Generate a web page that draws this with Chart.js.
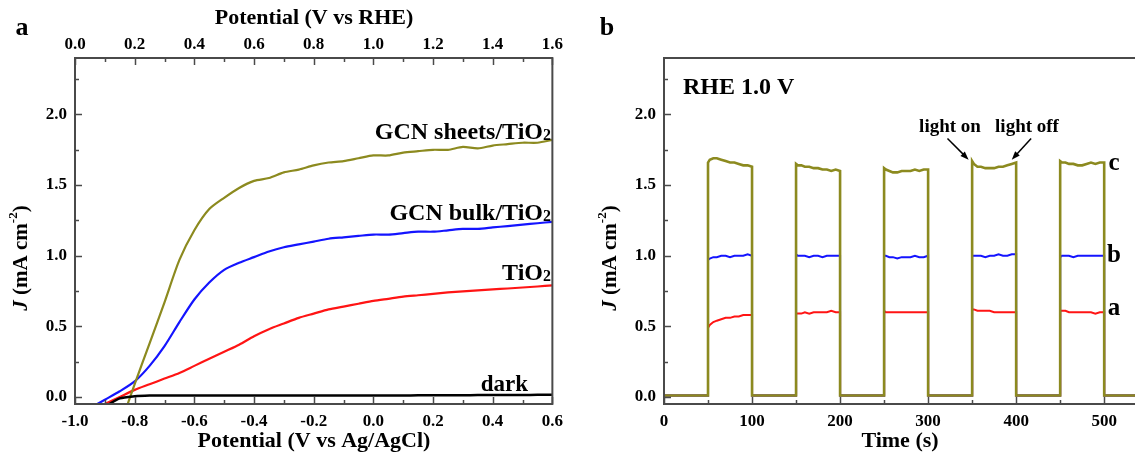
<!DOCTYPE html>
<html>
<head>
<meta charset="utf-8">
<script src="https://cdn.jsdelivr.net/npm/chart.js@4.4.0/dist/chart.umd.min.js"></script>
<style>
  html, body { margin: 0; padding: 0; background: #fff; overflow: hidden; }
  canvas { position: absolute; top: 0; }
</style>
</head>
<body>
<canvas id="chartA" width="570" height="457" style="left:0"></canvas>
<canvas id="chartB" width="555" height="457" style="left:580px"></canvas>
<script>
// ---- panel a: LSV curves ----
const potential = [-0.95, -0.90, -0.85, -0.80, -0.75, -0.70, -0.65, -0.60, -0.55, -0.50, -0.45, -0.40, -0.35, -0.30, -0.25, -0.20,
  -0.15, -0.10, -0.05, 0.00, 0.05, 0.10, 0.15, 0.20, 0.25, 0.30, 0.35, 0.40, 0.45, 0.50, 0.55, 0.60];
const jSheets = [null, null, -0.21, 0.09, 0.38, 0.67, 0.97, 1.18, 1.33, 1.41, 1.48, 1.53, 1.55, 1.59, 1.61, 1.64,
  1.66, 1.67, 1.69, 1.71, 1.71, 1.73, 1.74, 1.75, 1.75, 1.77, 1.76, 1.78, 1.79, 1.80, 1.80, 1.82];
const jBulk = [-0.08, -0.02, 0.04, 0.11, 0.22, 0.36, 0.53, 0.69, 0.81, 0.90, 0.95, 0.99, 1.03, 1.06, 1.08, 1.10,
  1.12, 1.13, 1.14, 1.15, 1.15, 1.16, 1.17, 1.17, 1.18, 1.19, 1.19, 1.20, 1.21, 1.22, 1.23, 1.24];
const jTiO2 = [-0.10, -0.05, 0.00, 0.05, 0.09, 0.13, 0.17, 0.22, 0.27, 0.32, 0.37, 0.43, 0.48, 0.52, 0.56, 0.59,
  0.62, 0.64, 0.66, 0.68, 0.695, 0.71, 0.72, 0.73, 0.74, 0.748, 0.755, 0.762, 0.768, 0.775, 0.782, 0.79];
const jDark = [null, -0.07, -0.01, 0.005, 0.01, 0.01, 0.01, 0.01, 0.01, 0.01, 0.01, 0.01, 0.01, 0.01, 0.01, 0.01,
  0.01, 0.01, 0.01, 0.01, 0.01, 0.01, 0.012, 0.012, 0.012, 0.012, 0.013, 0.013, 0.014, 0.014, 0.015, 0.015];

const agclTicks = [-1.0, -0.8, -0.6, -0.4, -0.2, 0.0, 0.2, 0.4, 0.6];
const agclMinor = [-0.9, -0.7, -0.5, -0.3, -0.1, 0.1, 0.3, 0.5];
const rheTicks = [0.0, 0.2, 0.4, 0.6, 0.8, 1.0, 1.2, 1.4, 1.6];
const rheMinor = [0.1, 0.3, 0.5, 0.7, 0.9, 1.1, 1.3, 1.5];
const jTicks = [0.0, 0.5, 1.0, 1.5, 2.0];
const jMinor = [0.25, 0.75, 1.25, 1.75, 2.25];

// ---- panel b: chopped light response at 1.0 V vs RHE ----
const time = [0,
  50, 50, 52, 56, 60, 65, 70, 75, 80, 85, 90, 95, 100, 100,
  150, 150, 152, 156, 160, 165, 170, 175, 180, 185, 190, 195, 200, 200,
  250, 250, 252, 256, 260, 265, 270, 275, 280, 285, 290, 295, 300, 300,
  350, 350, 352, 356, 360, 365, 370, 375, 380, 385, 390, 395, 400, 400,
  450, 450, 452, 456, 460, 465, 470, 475, 480, 485, 490, 495, 500, 500,
  535];
const jA = [0.01,
  0.01, 0.49, 0.51, 0.53, 0.54, 0.55, 0.56, 0.56, 0.57, 0.57, 0.58, 0.58, 0.58, 0.01,
  0.01, 0.59, 0.59, 0.59, 0.60, 0.59, 0.60, 0.60, 0.60, 0.60, 0.61, 0.60, 0.60, 0.01,
  0.01, 0.61, 0.60, 0.60, 0.60, 0.60, 0.60, 0.60, 0.60, 0.60, 0.60, 0.60, 0.60, 0.01,
  0.01, 0.62, 0.62, 0.61, 0.61, 0.61, 0.61, 0.60, 0.60, 0.60, 0.60, 0.60, 0.60, 0.01,
  0.01, 0.61, 0.61, 0.61, 0.60, 0.60, 0.60, 0.60, 0.60, 0.60, 0.59, 0.60, 0.60, 0.01,
  0.01];
const jB = [0.01,
  0.01, 0.97, 0.98, 0.99, 0.99, 1.00, 1.00, 0.99, 1.00, 1.00, 1.00, 1.01, 1.00, 0.01,
  0.01, 1.01, 1.00, 1.00, 1.00, 0.99, 1.00, 1.00, 0.99, 1.00, 1.00, 1.00, 1.00, 0.01,
  0.01, 1.00, 1.00, 0.99, 0.99, 0.98, 0.99, 0.99, 0.99, 1.00, 0.99, 0.99, 1.00, 0.01,
  0.01, 1.00, 1.00, 1.00, 1.00, 0.99, 1.00, 1.00, 1.01, 1.00, 1.00, 1.01, 1.01, 0.01,
  0.01, 0.99, 1.00, 1.00, 1.00, 0.99, 1.00, 1.00, 1.00, 1.00, 1.00, 1.00, 1.00, 0.01,
  0.01];
const jC = [0.01,
  0.01, 1.66, 1.68, 1.69, 1.69, 1.68, 1.67, 1.66, 1.66, 1.65, 1.64, 1.64, 1.63, 0.01,
  0.01, 1.65, 1.64, 1.64, 1.63, 1.63, 1.62, 1.62, 1.61, 1.61, 1.60, 1.61, 1.60, 0.01,
  0.01, 1.62, 1.61, 1.60, 1.59, 1.59, 1.60, 1.60, 1.60, 1.61, 1.60, 1.61, 1.61, 0.01,
  0.01, 1.67, 1.65, 1.63, 1.63, 1.62, 1.62, 1.62, 1.63, 1.63, 1.64, 1.65, 1.66, 0.01,
  0.01, 1.67, 1.66, 1.66, 1.65, 1.65, 1.64, 1.64, 1.65, 1.66, 1.65, 1.66, 1.66, 0.01,
  0.01];
const timeTicks = [0, 100, 200, 300, 400, 500];
const timeMinor = [50, 150, 250, 350, 450];

const OLIVE = '#8c8a1f', BLUE = '#1414ff', RED = '#ff1414', AXIS = '#4a4a4a';
const serif = '"Liberation Serif", "Times New Roman", serif';
const tickFont = { family: serif, size: 17, weight: 'bold' };

function pts(xs, ys) { return xs.map((x, i) => ({ x: x, y: ys[i] })); }
function fixTicks(list) { return s => { s.ticks = list.map(v => ({ value: v })); }; }

function rich(ctx, parts, x, y, align) {
  let w = 0;
  parts.forEach(p => { ctx.font = p.font; w += ctx.measureText(p.text).width; });
  let cx = align === 'right' ? x - w : align === 'center' ? x - w / 2 : x;
  ctx.textAlign = 'left';
  parts.forEach(p => {
    ctx.font = p.font;
    ctx.fillText(p.text, cx, y + (p.dy || 0));
    cx += ctx.measureText(p.text).width;
  });
}
function withSub(main, sub, size) {
  return [{ text: main, font: `bold ${size}px ${serif}` }, { text: sub, font: `bold ${Math.round(size * 0.68)}px ${serif}`, dy: 1 }];
}
function yTitle(ctx, cx, cy) {
  ctx.save();
  ctx.translate(cx, cy);
  ctx.rotate(-Math.PI / 2);
  ctx.textBaseline = 'middle';
  ctx.fillStyle = '#000';
  rich(ctx, [
    { text: 'J', font: `italic bold 21px ${serif}` },
    { text: ' (mA cm', font: `bold 21px ${serif}` },
    { text: '-2', font: `bold 13px ${serif}`, dy: -8 },
    { text: ')', font: `bold 21px ${serif}` }
  ], 0, 0, 'center');
  ctx.restore();
}
function arrow(ctx, x1, y1, x2, y2) {
  const ang = Math.atan2(y2 - y1, x2 - x1), h = 9;
  ctx.beginPath(); ctx.moveTo(x1, y1); ctx.lineTo(x2 - Math.cos(ang) * 5, y2 - Math.sin(ang) * 5); ctx.stroke();
  ctx.beginPath();
  ctx.moveTo(x2, y2);
  ctx.lineTo(x2 - h * Math.cos(ang - 0.35), y2 - h * Math.sin(ang - 0.35));
  ctx.lineTo(x2 - h * Math.cos(ang + 0.35), y2 - h * Math.sin(ang + 0.35));
  ctx.closePath(); ctx.fill();
}

// inward ticks, frame and the texts
const decor = {
  id: 'decor',
  afterDatasetsDraw(chart, args, opts) {
    const ctx = chart.ctx, a = chart.chartArea;
    ctx.save();
    ctx.strokeStyle = AXIS;
    ctx.lineWidth = 1.5;
    (opts.ticks || []).forEach(t => {
      const s = chart.scales[t.axis];
      const mark = (v, len) => {
        const p = Math.round(s.getPixelForValue(v)) + 0.5;
        ctx.beginPath();
        if (t.side === 'bottom') { ctx.moveTo(p, a.bottom); ctx.lineTo(p, a.bottom - len); }
        if (t.side === 'top') { ctx.moveTo(p, a.top); ctx.lineTo(p, a.top + len); }
        if (t.side === 'left') { ctx.moveTo(a.left, p); ctx.lineTo(a.left + len, p); }
        ctx.stroke();
      };
      t.major.forEach(v => mark(v, 7));
      t.minor.forEach(v => mark(v, 4));
    });
    ctx.lineWidth = 2;
    ctx.beginPath();
    if (opts.open) {
      ctx.moveTo(chart.width, a.top); ctx.lineTo(a.left, a.top);
      ctx.lineTo(a.left, a.bottom); ctx.lineTo(chart.width, a.bottom);
    } else {
      ctx.rect(a.left, a.top, a.right - a.left, a.bottom - a.top);
    }
    ctx.stroke();
    ctx.restore();
  },
  afterDraw(chart, args, opts) {
    const ctx = chart.ctx;
    ctx.save();
    ctx.fillStyle = '#000';
    ctx.strokeStyle = '#000';
    ctx.textBaseline = 'alphabetic';
    if (opts.texts) opts.texts(ctx, chart);
    ctx.restore();
  }
};

function lineSet(data, color, width) {
  return { data: data, borderColor: color, backgroundColor: color, borderWidth: width, pointRadius: 0, fill: false, spanGaps: false };
}
const noGrid = { display: false, drawTicks: false };

// Chart.js paints the first dataset on top, so the top-most curve comes first
new Chart(document.getElementById('chartA'), {
  type: 'line',
  data: {
    datasets: [
      lineSet(pts(potential, jDark), '#000', 2.5),
      lineSet(pts(potential, jSheets), OLIVE, 2.2),
      lineSet(pts(potential, jBulk), BLUE, 2.2),
      lineSet(pts(potential, jTiO2), RED, 2.2)
    ]
  },
  plugins: [decor],
  options: {
    responsive: false, animation: false, devicePixelRatio: 1,
    layout: { padding: { left: 0, right: 17, top: 0, bottom: 0 } },
    elements: { line: { tension: 0.25 } },
    plugins: {
      legend: { display: false }, tooltip: { enabled: false },
      decor: {
        ticks: [
          { axis: 'x', side: 'bottom', major: agclTicks, minor: agclMinor },
          { axis: 'x2', side: 'top', major: rheTicks, minor: rheMinor },
          { axis: 'y', side: 'left', major: jTicks, minor: jMinor }
        ],
        texts: (ctx) => {
          ctx.textAlign = 'center'; ctx.textBaseline = 'middle';
          ctx.font = `bold 26px ${serif}`;
          ctx.fillText('a', 22, 28);
          ctx.font = `bold 22px ${serif}`;
          ctx.fillText('Potential (V vs RHE)', 314, 18);
          ctx.fillText('Potential (V vs Ag/AgCl)', 314, 441);
          yTitle(ctx, 22, 258);
          ctx.textBaseline = 'alphabetic';
          rich(ctx, withSub('GCN sheets/TiO', '2', 24), 551, 139, 'right');
          rich(ctx, withSub('GCN bulk/TiO', '2', 24), 551, 220, 'right');
          rich(ctx, withSub('TiO', '2', 24), 551, 280, 'right');
          ctx.font = `bold 23px ${serif}`;
          ctx.textAlign = 'right';
          ctx.fillText('dark', 528, 391);
        }
      }
    },
    scales: {
      x: {
        type: 'linear', position: 'bottom', min: -1.0, max: 0.6,
        grid: noGrid, border: { display: false },
        afterBuildTicks: fixTicks(agclTicks), afterFit: s => { s.height = 53; },
        ticks: { padding: 7, color: '#000', font: tickFont, maxRotation: 0, callback: v => v.toFixed(1) }
      },
      x2: {
        type: 'linear', position: 'top', min: 0.0, max: 1.6,
        grid: noGrid, border: { display: false },
        afterBuildTicks: fixTicks(rheTicks), afterFit: s => { s.height = 58; },
        ticks: { padding: 3, color: '#000', font: tickFont, maxRotation: 0, callback: v => v.toFixed(1) }
      },
      y: {
        type: 'linear', position: 'left', min: -0.05, max: 2.4,
        grid: noGrid, border: { display: false },
        afterBuildTicks: fixTicks(jTicks), afterFit: s => { s.width = 75; },
        ticks: { padding: 8, color: '#000', font: tickFont, callback: v => v.toFixed(1) }
      }
    }
  }
});

new Chart(document.getElementById('chartB'), {
  type: 'line',
  data: {
    datasets: [
      lineSet(pts(time, jC), OLIVE, 2.6),
      lineSet(pts(time, jB), BLUE, 2),
      lineSet(pts(time, jA), RED, 2)
    ]
  },
  plugins: [decor],
  options: {
    responsive: false, animation: false, devicePixelRatio: 1,
    layout: { padding: { left: 0, right: 0, top: 58, bottom: 0 } },
    elements: { line: { tension: 0 } },
    plugins: {
      legend: { display: false }, tooltip: { enabled: false },
      decor: {
        open: true,
        ticks: [
          { axis: 'x', side: 'bottom', major: timeTicks, minor: timeMinor },
          { axis: 'y', side: 'left', major: jTicks, minor: jMinor }
        ],
        texts: (ctx, chart) => {
          const sx = chart.scales.x, sy = chart.scales.y;
          ctx.textAlign = 'center'; ctx.textBaseline = 'middle';
          ctx.font = `bold 26px ${serif}`;
          ctx.fillText('b', 27, 28);
          ctx.font = `bold 22px ${serif}`;
          ctx.fillText('Time (s)', 320, 441);
          yTitle(ctx, 31, 258);
          ctx.textAlign = 'left'; ctx.textBaseline = 'alphabetic';
          ctx.font = `bold 24px ${serif}`;
          ctx.fillText('RHE 1.0 V', 103, 94);
          ctx.textAlign = 'center';
          ctx.font = `bold 19px ${serif}`;
          ctx.fillText('light on', 370, 132);
          ctx.fillText('light off', 447, 132);
          ctx.lineWidth = 1.5;
          arrow(ctx, sx.getPixelForValue(322), sy.getPixelForValue(1.83), sx.getPixelForValue(346), sy.getPixelForValue(1.68));
          arrow(ctx, sx.getPixelForValue(417), sy.getPixelForValue(1.83), sx.getPixelForValue(395), sy.getPixelForValue(1.68));
          ctx.font = `bold 25px ${serif}`;
          ctx.textBaseline = 'middle';
          ctx.fillText('c', 534, 164);
          ctx.fillText('b', 534, 256);
          ctx.fillText('a', 534, 309);
        }
      }
    },
    scales: {
      x: {
        type: 'linear', position: 'bottom', min: 0, max: 535,
        grid: noGrid, border: { display: false },
        afterBuildTicks: fixTicks(timeTicks), afterFit: s => { s.height = 53; },
        ticks: { padding: 7, color: '#000', font: tickFont, maxRotation: 0, callback: v => String(v) }
      },
      y: {
        type: 'linear', position: 'left', min: -0.05, max: 2.4,
        grid: noGrid, border: { display: false },
        afterBuildTicks: fixTicks(jTicks), afterFit: s => { s.width = 84; },
        ticks: { padding: 8, color: '#000', font: tickFont, callback: v => v.toFixed(1) }
      }
    }
  }
});
</script>
</body>
</html>
